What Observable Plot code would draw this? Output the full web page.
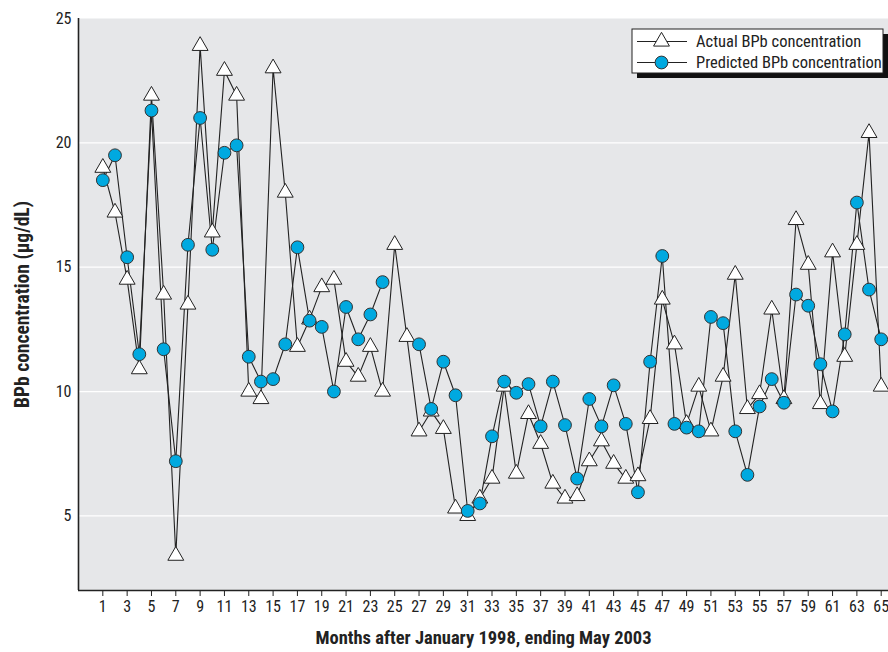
<!DOCTYPE html>
<html><head><meta charset="utf-8">
<script src="https://cdn.jsdelivr.net/npm/d3@7"></script>
<script src="https://cdn.jsdelivr.net/npm/@observablehq/plot@0.6"></script>
<style>
body{margin:0;background:#fff;}
#chart svg{display:block;}
</style>
</head><body><div id="chart"></div>
<script>
const months = [1,2,3,4,5,6,7,8,9,10,11,12,13,14,15,16,17,18,19,20,21,22,23,24,25,26,27,28,29,30,31,32,33,34,35,36,37,38,39,40,41,42,43,44,45,46,47,48,49,50,51,52,53,54,55,56,57,58,59,60,61,62,63,64,65];
const actual = [19.0,17.2,14.5,10.9,21.9,13.9,3.4,13.5,23.9,16.4,22.9,21.9,10.0,9.7,23.0,18.0,11.8,12.9,14.2,14.5,11.2,10.6,11.8,10.0,15.9,12.2,8.4,9.2,8.5,5.3,5.0,5.7,6.5,10.2,6.7,9.1,7.9,6.3,5.7,5.8,7.2,8.0,7.1,6.5,6.6,8.9,13.7,11.9,8.7,10.2,8.4,10.6,14.7,9.3,9.9,13.3,9.7,16.9,15.1,9.5,15.6,11.4,15.9,20.4,10.2];
const predicted = [18.5,19.5,15.4,11.5,21.3,11.7,7.2,15.9,21.0,15.7,19.6,19.9,11.4,10.4,10.5,11.9,15.8,12.85,12.6,10.0,13.4,12.1,13.1,14.4,null,null,11.9,9.3,11.2,9.85,5.2,5.5,8.2,10.4,9.95,10.3,8.6,10.4,8.65,6.5,9.7,8.6,10.25,8.7,5.95,11.2,15.45,8.7,8.55,8.4,13.0,12.75,8.4,6.65,9.4,10.5,9.55,13.9,13.45,11.1,9.2,12.3,17.6,14.1,12.1];
const xTicks = [1,3,5,7,9,11,13,15,17,19,21,23,25,27,29,31,33,35,37,39,41,43,45,47,49,51,53,55,57,59,61,63,65];
const yTicks = [5,10,15,20,25];
const gridValues = [5,10,15,20];
const seriesNames = ["Actual BPb concentration","Predicted BPb concentration"];
const xTitle = "Months after January 1998, ending May 2003";
const yTitle = "BPb concentration (\u03bcg/dL)";

const FONT = '"Liberation Sans Narrow", "Roboto Condensed", "DejaVu Sans Condensed", "Arial Narrow", sans-serif';
const BLUE = "#00a9e0";

const rowsA = months.map((m,i)=>({month:m, value:actual[i]}));
const rowsP = months.map((m,i)=>({month:m, value:predicted[i]}));

const chart = Plot.plot({
  width: 888, height: 652,
  marginLeft: 78, marginRight: 0, marginTop: 18, marginBottom: 62,
  style: {fontFamily: FONT, fontSize: "16px", color: "#222", background: "#fff"},
  x: {domain: [-1, 65.6]},
  y: {domain: [2, 25]},
  marks: [
    Plot.frame({fill: "#e6e7e9", stroke: null}),
    Plot.gridY(gridValues, {stroke: "#fff", strokeOpacity: 1, strokeWidth: 1.3}),
    Plot.axisX(xTicks, {tickSize: 6, tickPadding: 4, label: null, fontSize: 16, stroke: "#222"}),
    Plot.axisY(yTicks, {tickSize: 0, tickPadding: 7, label: null, fontSize: 16}),
    Plot.ruleX([-1], {stroke: "#222", strokeWidth: 1.6}),
    Plot.ruleY([2], {stroke: "#222", strokeWidth: 1.6}),
    Plot.line(rowsA, {x:"month", y:"value", stroke:"#222", strokeWidth:1.1}),
    Plot.line(rowsP, {x:"month", y:"value", stroke:"#222", strokeWidth:1.1}),
    Plot.dot(rowsA, {x:"month", y:"value", symbol:"triangle", r:5.9, fill:"#fff", stroke:"#222", strokeWidth:1}),
    Plot.dot(rowsP, {x:"month", y:"value", r:6.4, fill:BLUE, stroke:"#333", strokeWidth:1}),
    Plot.text([xTitle], {frameAnchor:"bottom", dy: 53, textAnchor:"middle", fontWeight:"bold", fontSize:18.5, fill:"#222"}),
    Plot.text([yTitle], {frameAnchor:"left", dx:-56, rotate:-90, textAnchor:"middle", fontWeight:"bold", fontSize:19.5, fill:"#222"})
  ]
});
document.getElementById("chart").appendChild(chart);

// legend
const svg = d3.select(chart);
const lg = svg.append("g").attr("font-family", FONT).attr("font-size", 16.5).attr("fill", "#222").attr("text-anchor", "start");
lg.append("rect").attr("x", 637).attr("y", 34).attr("width", 251).attr("height", 44).attr("fill", "#111");
lg.append("rect").attr("x", 632).attr("y", 29).attr("width", 251).attr("height", 44).attr("fill", "#fff").attr("stroke", "#222").attr("stroke-width", 1);
const rowsY = [41.5, 62.5];
seriesNames.forEach((name, i) => {
  const y = rowsY[i];
  lg.append("line").attr("x1", 637).attr("x2", 687).attr("y1", y).attr("y2", y).attr("stroke", "#222").attr("stroke-width", 1.1);
  if (i === 0) {
    lg.append("path").attr("d", d3.symbol(d3.symbolTriangle, Math.PI * 5.9 * 5.9)()).attr("transform", `translate(661.5,${y})`).attr("fill", "#fff").attr("stroke", "#222");
  } else {
    lg.append("circle").attr("cx", 661.5).attr("cy", y).attr("r", 6.4).attr("fill", BLUE).attr("stroke", "#333");
  }
  lg.append("text").attr("x", 696).attr("y", y).attr("dy", "0.35em").attr("text-anchor", "start").text(name);
});
</script>
</body></html>
